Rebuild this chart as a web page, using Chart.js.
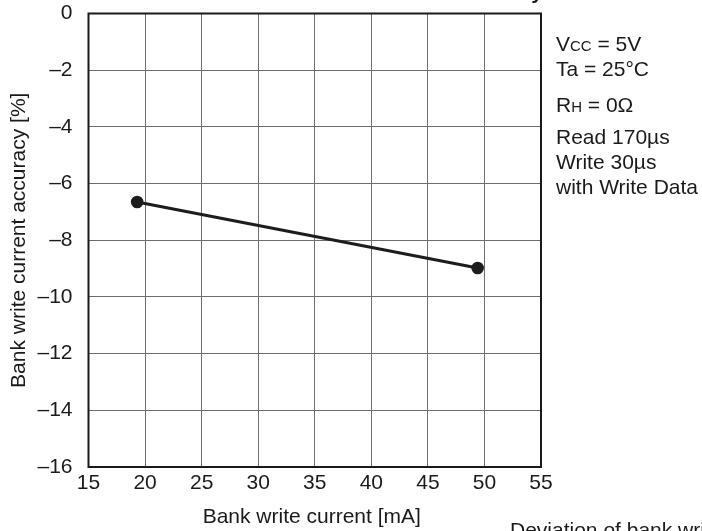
<!DOCTYPE html>
<html>
<head>
<meta charset="utf-8">
<script src="https://cdn.jsdelivr.net/npm/chart.js@4/dist/chart.umd.min.js"></script>
<style>
  html, body { margin: 0; padding: 0; background: #fff; }
  #wrap { width: 702px; height: 531px; position: relative; }
</style>
</head>
<body>
<div id="wrap"><canvas id="c" width="702" height="531"></canvas></div>
<script>
const currentMA = [19.3, 49.4];
const accuracyPct = [-6.65, -8.98];
const xTicks = [15, 20, 25, 30, 35, 40, 45, 50, 55];
const yTicks = [0, -2, -4, -6, -8, -10, -12, -14, -16];
const xTitle = 'Bank write current [mA]';
const yTitle = 'Bank write current accuracy [%]';
const chartTitle = 'Bank Write Current Accuracy';
const caption = 'Deviation of bank write current accuracy';

const FONT = '"Liberation Sans", Arial, Helvetica, sans-serif';
const FS = 21;
const PL = 88.5, PT = 13.5, PR = 541, PB = 467;

const extras = {
  id: 'extras',
  beforeDatasetsDraw(chart) {
    const ctx = chart.ctx, a = chart.chartArea;
    ctx.save();
    ctx.strokeStyle = '#1a1a1a';
    ctx.lineWidth = 2;
    ctx.strokeRect(a.left, a.top, a.right - a.left, a.bottom - a.top);
    ctx.restore();
  },
  afterDraw(chart) {
    const ctx = chart.ctx, a = chart.chartArea;
    ctx.save();
    ctx.fillStyle = '#1a1a1a';
    ctx.textBaseline = 'alphabetic';
    // axis titles
    ctx.font = FS + 'px ' + FONT;
    ctx.textAlign = 'center';
    ctx.fillText(xTitle, (a.left + a.right) / 2 - 3, 523);
    ctx.save();
    ctx.translate(25, (a.top + a.bottom) / 2);
    ctx.rotate(-Math.PI / 2);
    ctx.fillText(yTitle, 0, 0);
    ctx.restore();
    // partially visible title at top
    ctx.font = 'bold 21px ' + FONT;
    ctx.textAlign = 'right';
    ctx.fillText(chartTitle, 543, -1.5);
    // caption at bottom right
    ctx.font = '21px ' + FONT;
    ctx.textAlign = 'left';
    ctx.fillText(caption, 510, 537);
    // conditions text
    const x0 = 556;
    const big = FS + 'px ' + FONT, small = '15px ' + FONT;
    function runs(parts, y) {
      let x = x0;
      for (const [t, f] of parts) {
        ctx.font = f;
        ctx.fillText(t, x, y);
        x += ctx.measureText(t).width;
      }
    }
    runs([['V', big], ['CC', small], [' = 5V', big]], 51);
    runs([['Ta = 25\u00B0C', big]], 76);
    runs([['R', big], ['H', small], [' = 0\u03A9', big]], 112);
    runs([['Read 170\u00B5s', big]], 144);
    runs([['Write 30\u00B5s', big]], 169);
    runs([['with Write Data', big]], 194);
    ctx.restore();
  }
};

new Chart(document.getElementById('c'), {
  type: 'scatter',
  data: {
    datasets: [{
      data: currentMA.map((x, i) => ({ x, y: accuracyPct[i] })),
      showLine: true,
      borderColor: '#1f1c1d',
      backgroundColor: '#1f1c1d',
      borderWidth: 3,
      pointRadius: 4.8,
      pointHoverRadius: 4.8
    }]
  },
  options: {
    responsive: false,
    animation: false,
    devicePixelRatio: 1,
    layout: { padding: { left: 0, top: PT, right: 702 - PR, bottom: 0 } },
    plugins: { legend: { display: false }, tooltip: { enabled: false }, title: { display: false } },
    scales: {
      x: {
        type: 'linear', min: 15, max: 55,
        afterBuildTicks(s) { s.ticks = xTicks.map(v => ({ value: v })); },
        afterFit(s) { s.height = 531 - PB; s.paddingLeft = 0; s.paddingRight = 0; },
        grid: { color: '#6e6e6e', lineWidth: 1, drawTicks: false },
        border: { display: false },
        ticks: { color: '#1a1a1a', font: { family: FONT, size: FS }, padding: 4, maxRotation: 0, autoSkip: false }
      },
      y: {
        type: 'linear', min: -16, max: 0,
        afterBuildTicks(s) { s.ticks = yTicks.map(v => ({ value: v })); },
        afterFit(s) { s.width = PL; s.paddingTop = 0; s.paddingBottom = 0; },
        grid: { color: '#6e6e6e', lineWidth: 1, drawTicks: false },
        border: { display: false },
        ticks: {
          color: '#1a1a1a', font: { family: FONT, size: FS }, padding: 16, autoSkip: false,
          callback: v => (v < 0 ? '\u2013' + Math.abs(v) : String(v))
        }
      }
    }
  },
  plugins: [extras]
});
</script>
</body>
</html>
